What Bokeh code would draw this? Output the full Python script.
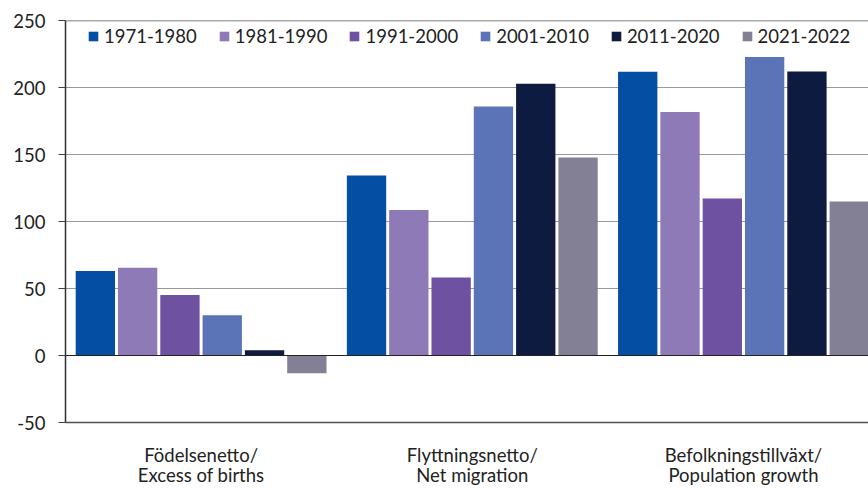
from bokeh.plotting import figure
from bokeh.models import (Range1d, FixedTicker, ColumnDataSource, Span, Legend,
                          LegendItem, LinearAxis)
from bokeh.transform import dodge
from bokeh.embed import file_html
from bokeh.resources import INLINE

# ---- data ----
label_line1 = ["Födelsenetto/", "Flyttningsnetto/", "Befolkningstillväxt/"]
label_line2 = ["Excess of births", "Net migration", "Population growth"]
periods = ["1971-1980", "1981-1990", "1991-2000", "2001-2010", "2011-2020", "2021-2022"]
v_1971_1980 = [63.0, 134.4, 211.7]
v_1981_1990 = [65.5, 108.5, 181.8]
v_1991_2000 = [45.2, 58.3, 117.1]
v_2001_2010 = [30.1, 185.8, 222.8]
v_2011_2020 = [3.9, 202.8, 212.0]
v_2021_2022 = [-13.3, 147.7, 114.9]
y_ticks = [-50, 0, 50, 100, 150, 200, 250]

series = [v_1971_1980, v_1981_1990, v_1991_2000, v_2001_2010, v_2011_2020, v_2021_2022]
colors = ["#044EA3", "#8F7AB8", "#6F51A1", "#5B73B7", "#0D1B40", "#838096"]

FONT = "Lato"
FS = "18.5px"
TXT = "#222222"

xs = [i + 0.5 for i in range(len(label_line1))]
data = {"x": xs}
for name, vals in zip(periods, series):
    data[name] = vals
src = ColumnDataSource(data)

p = figure(width=868, height=488, x_range=Range1d(0, 2.961), y_range=Range1d(-50, 250),
           output_backend="svg", toolbar_location=None, x_axis_location=None,
           min_border_left=65, min_border_right=0, min_border_top=20, min_border_bottom=63)
p.outline_line_color = None
p.background_fill_color = "white"
p.border_fill_color = "white"

slot = 0.156
bar_w = 0.145
items = []
for i, (name, color) in enumerate(zip(periods, colors)):
    r = p.vbar(x=dodge("x", (i - 2.5) * slot, range=p.x_range), top=name, bottom=0,
               width=bar_w, source=src, fill_color=color, line_color=None)
    items.append(LegendItem(label=name, renderers=[r]))

# y axis
p.yaxis.ticker = FixedTicker(ticks=y_ticks)
p.yaxis.major_label_overrides = {t: str(t) for t in y_ticks}
p.yaxis.major_label_text_font = FONT
p.yaxis.major_label_text_font_size = FS
p.yaxis.major_label_text_color = TXT
p.yaxis.major_tick_out = 7
p.yaxis.major_tick_in = 0
p.yaxis.minor_tick_line_color = None
p.yaxis.major_tick_line_color = "#404040"
p.yaxis.axis_line_color = "#303030"
p.yaxis.axis_line_width = 1.5
p.yaxis.major_label_standoff = 13

# x axes: one per label line
def cat_axis(lines, standoff, line_color, lh):
    ax = LinearAxis(ticker=FixedTicker(ticks=xs),
                    major_label_overrides={x: t for x, t in zip(xs, lines)},
                    major_label_text_font=FONT, major_label_text_font_size=FS,
                    major_label_text_color=TXT, major_label_standoff=standoff,
                    major_label_text_line_height=lh,
                    major_tick_in=0, major_tick_out=0, major_tick_line_color=None,
                    minor_tick_line_color=None, axis_line_color=line_color,
                    axis_line_width=1.5)
    return ax

p.add_layout(cat_axis(label_line1, 21, "#505050", 1.2), "below")
p.add_layout(cat_axis(label_line2, -5, None, 0.6), "below")

p.xgrid.grid_line_color = None
p.ygrid.ticker = FixedTicker(ticks=y_ticks)
p.ygrid.grid_line_color = "#9a9a9a"
p.ygrid.grid_line_width = 1
p.ygrid.level = "underlay"

p.add_layout(Span(location=250, dimension="width", line_color="#555555", line_width=1.5))
p.add_layout(Span(location=0, dimension="width", line_color="#222222", line_width=1.2))

legend = Legend(items=items, orientation="horizontal", location=(22, 375),
                glyph_width=12, glyph_height=12, label_standoff=5, spacing=21,
                padding=5, margin=0, border_line_color=None, background_fill_alpha=0,
                label_text_font=FONT, label_text_font_size=FS, label_text_color=TXT)
p.add_layout(legend)

open("out.html", "w").write(file_html(p, INLINE))
